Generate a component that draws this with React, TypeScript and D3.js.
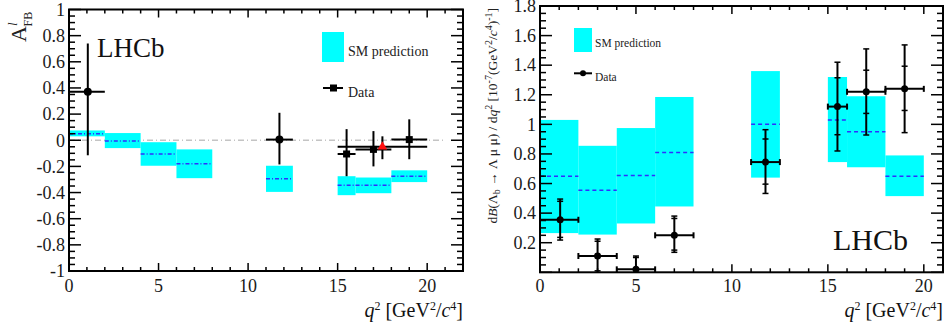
import * as d3 from "d3";

const FONT = "'Liberation Serif', 'Times New Roman', serif";
const CYAN = "#00ffff";
const BLUE = "#2f2fff";

// q^2 bins of the SM prediction (GeV^2/c^4), same for both panels
const binLo = [0, 2, 4, 6, 11, 15, 16, 18];
const binHi = [2, 4, 6, 8, 12.5, 16, 18, 20];

// left panel: A_FB^l
const afbSmMid = [0.05, -0.005, -0.105, -0.18, -0.295, -0.345, -0.345, -0.275];
const afbSmLow = [0.03, -0.06, -0.195, -0.29, -0.395, -0.42, -0.405, -0.32];
const afbSmHigh = [0.075, 0.055, -0.015, -0.07, -0.195, -0.275, -0.285, -0.23];

const afbX = [1.05, 11.75, 15.5, 17, 19];
const afbXLo = [0, 11, 15, 16, 18];
const afbXHi = [2, 12.5, 16, 18, 20];
const afbY = [0.37, 0.005, -0.105, -0.07, 0.005];
const afbYHi = [0.74, 0.21, 0.085, 0.07, 0.16];
const afbYLo = [-0.115, -0.185, -0.275, -0.2, -0.145];
const afbMarker = ["circle", "circle", "square", "square", "square"];

// the wide 15-20 bin, red triangle
const afbWideX = 17.5;
const afbWideXLo = 15;
const afbWideXHi = 20;
const afbWideY = -0.05;
const afbWideYHi = 0.03;
const afbWideYLo = -0.145;

// right panel: dB/dq^2
const brSmMid = [0.65, 0.555, 0.655, 0.81, 1.0, 1.03, 0.95, 0.65];
const brSmLow = [0.265, 0.255, 0.33, 0.445, 0.64, 0.745, 0.71, 0.515];
const brSmHigh = [1.03, 0.855, 0.975, 1.185, 1.36, 1.32, 1.19, 0.79];

const brX = [1.05, 3, 5, 7, 11.75, 15.5, 17, 19];
const brXLo = [0, 2, 4, 6, 11, 15, 16, 18];
const brXHi = [2, 4, 6, 8, 12.5, 16, 18, 20];
const brY = [0.355, 0.11, 0.02, 0.25, 0.745, 1.12, 1.22, 1.24];
const brTotHi = [0.495, 0.225, 0.11, 0.38, 0.964, 1.42, 1.51, 1.537];
const brStatHi = [0.48, 0.21, 0.1, 0.364, 0.901, 1.315, 1.366, 1.393];
const brStatLo = [0.236, 0.01, 0, 0.15, 0.596, 0.93, 1.074, 1.094];
const brTotLo = [0.218, 0, 0, 0.135, 0.533, 0.82, 0.928, 0.944];

const afbTicks = d3.range(-1, 1.0001, 0.2).map((v) => +v.toFixed(1));
const brTicks = [0.2, 0.4, 0.6, 0.8, 1, 1.2, 1.4, 1.6, 1.8];
const q2Ticks = [0, 5, 10, 15, 20];

type Lin = d3.ScaleLinear<number, number>;

function Frame({ x, y, xMax, yMinor, yLabels }: { x: Lin; y: Lin; xMax: number; yMinor: number; yLabels: number[] }) {
  const [x0, x1] = x.range();
  const [yb, yt] = y.range();
  const [ylo, yhi] = y.domain();
  const xMinorTicks = d3.range(0, xMax + 0.001, 1);
  const yMinorTicks = d3.range(Math.round(ylo / yMinor), Math.round(yhi / yMinor) + 1).map((i) => i * yMinor);
  const isMajorY = (v: number) => Math.abs(v / 0.2 - Math.round(v / 0.2)) < 1e-6;
  const fmt = (v: number) => String(+v.toFixed(1));
  return (
    <g>
      {xMinorTicks.map((v) => {
        const len = v % 5 === 0 ? 8 : 4;
        return (
          <g key={"x" + v}>
            <line x1={x(v)} x2={x(v)} y1={yb} y2={yb - len} stroke="#000" strokeWidth={1.5} />
            <line x1={x(v)} x2={x(v)} y1={yt} y2={yt + len} stroke="#000" strokeWidth={1.5} />
          </g>
        );
      })}
      {yMinorTicks.map((v) => {
        const len = isMajorY(v) ? 12 : 6;
        return (
          <g key={"y" + v}>
            <line x1={x0} x2={x0 + len} y1={y(v)} y2={y(v)} stroke="#000" strokeWidth={1.5} />
            <line x1={x1} x2={x1 - len} y1={y(v)} y2={y(v)} stroke="#000" strokeWidth={1.5} />
          </g>
        );
      })}
      <rect x={x0} y={yt} width={x1 - x0} height={yb - yt} fill="none" stroke="#000" strokeWidth={2} />
      {yLabels.map((v) => (
        <text key={"yl" + v} x={x0 - 4} y={y(v)} dy="0.35em" textAnchor="end" fontSize={18} fill="#1a1a1a">
          {fmt(v)}
        </text>
      ))}
      {q2Ticks.map((v) => (
        <text key={"xl" + v} x={x(v)} y={292} textAnchor="middle" fontSize={18} fill="#1a1a1a">
          {v}
        </text>
      ))}
      <text x={x1} y={317} textAnchor="end" fontSize={20} fill="#111">
        <tspan fontStyle="italic">q</tspan>
        <tspan dy={-7} fontSize={12}>2</tspan>
        <tspan dy={7}> [GeV</tspan>
        <tspan dy={-7} fontSize={12}>2</tspan>
        <tspan dy={7}>/</tspan>
        <tspan fontStyle="italic">c</tspan>
        <tspan dy={-7} fontSize={12}>4</tspan>
        <tspan dy={7}>]</tspan>
      </text>
    </g>
  );
}

function SmBoxes({ x, y, lo, hi, mid, dash }: { x: Lin; y: Lin; lo: number[]; hi: number[]; mid: number[]; dash: string }) {
  return (
    <g>
      {binLo.map((b, i) => (
        <rect key={"b" + i} x={x(b)} y={y(hi[i])} width={x(binHi[i]) - x(b)} height={y(lo[i]) - y(hi[i])} fill={CYAN} />
      ))}
      {binLo.map((b, i) => (
        <line key={"m" + i} x1={x(b)} x2={x(binHi[i])} y1={y(mid[i])} y2={y(mid[i])} stroke={BLUE} strokeWidth={1.5} strokeDasharray={dash} />
      ))}
    </g>
  );
}

function AfbPanel() {
  const x = d3.scaleLinear().domain([0, 22]).range([69, 463]);
  const y = d3.scaleLinear().domain([-1, 1]).range([271, 9.5]);
  return (
    <g>
      <line x1={x(0)} x2={x(21)} y1={y(0)} y2={y(0)} stroke="#c4c4c4" strokeWidth={1.5} strokeDasharray="6,3,1,3" />
      <SmBoxes x={x} y={y} lo={afbSmLow} hi={afbSmHigh} mid={afbSmMid} dash="4,2,1,2" />
      {afbX.map((v, i) => (
        <g key={"d" + i} stroke="#000" strokeWidth={2}>
          <line x1={x(afbXLo[i])} x2={x(afbXHi[i])} y1={y(afbY[i])} y2={y(afbY[i])} />
          <line x1={x(v)} x2={x(v)} y1={y(afbYHi[i])} y2={y(afbYLo[i])} />
          {afbMarker[i] === "circle" ? (
            <circle cx={x(v)} cy={y(afbY[i])} r={4} fill="#000" stroke="none" />
          ) : (
            <rect x={x(v) - 3.5} y={y(afbY[i]) - 3.5} width={7} height={7} fill="#000" stroke="none" />
          )}
        </g>
      ))}
      <g stroke="#000" strokeWidth={2}>
        <line x1={x(afbWideXLo)} x2={x(afbWideXHi)} y1={y(afbWideY)} y2={y(afbWideY)} />
        <line x1={x(afbWideX)} x2={x(afbWideX)} y1={y(afbWideYHi)} y2={y(afbWideYLo)} />
      </g>
      <path
        d={d3.symbol(d3.symbolTriangle, 40)() as string}
        transform={`translate(${x(afbWideX)},${y(afbWideY)})`}
        fill="#ff1010"
      />
      <Frame x={x} y={y} xMax={22} yMinor={0.05} yLabels={afbTicks} />
      <text transform="translate(26,42) rotate(-90)" fontSize={22} fill="#222">
        <tspan>A</tspan>
        <tspan dy={-9} fontSize={13} fontStyle="italic">l</tspan>
        <tspan dx={-4} dy={15} fontSize={12}>FB</tspan>
      </text>
      <text x={97} y={57} fontSize={27} fill="#111">LHCb</text>
      <rect x={322} y={32} width={22} height={30} fill={CYAN} />
      <text x={348} y={56} fontSize={14} fill="#222">SM prediction</text>
      <line x1={323} x2={343} y1={88} y2={88} stroke="#000" strokeWidth={2} />
      <rect x={330} y={84.5} width={7} height={7} fill="#000" />
      <text x={348} y={97} fontSize={14} fill="#222">Data</text>
    </g>
  );
}

function BrPanel() {
  const x = d3.scaleLinear().domain([0, 21]).range([540, 943]);
  const y = d3.scaleLinear().domain([0, 1.8]).range([272.3, 6]);
  const cap = 3;
  return (
    <g>
      <SmBoxes x={x} y={y} lo={brSmLow} hi={brSmHigh} mid={brSmMid} dash="4,3" />
      {brX.map((v, i) => {
        const cx = x(v);
        const cy = y(brY[i]);
        return (
          <g key={"d" + i} stroke="#000" strokeWidth={2}>
            <line x1={x(brXLo[i])} x2={x(brXHi[i])} y1={cy} y2={cy} />
            <line x1={x(brXLo[i])} x2={x(brXLo[i])} y1={cy - cap} y2={cy + cap} />
            <line x1={x(brXHi[i])} x2={x(brXHi[i])} y1={cy - cap} y2={cy + cap} />
            <line x1={cx} x2={cx} y1={y(brTotHi[i])} y2={y(brTotLo[i])} />
            {[brTotHi[i], brStatHi[i], brStatLo[i], brTotLo[i]]
              .filter((e) => e > 0.005)
              .map((e, j) => (
                <line key={j} x1={cx - cap} x2={cx + cap} y1={y(e)} y2={y(e)} strokeWidth={1.5} />
              ))}
            <circle cx={cx} cy={cy} r={3.5} fill="#000" stroke="none" />
          </g>
        );
      })}
      <Frame x={x} y={y} xMax={21} yMinor={0.05} yLabels={brTicks} />
      <text transform="translate(497,8) rotate(-90)" textAnchor="end" fontSize={13.5} fill="#222">
        <tspan>d</tspan>
        <tspan fontStyle="italic">B</tspan>
        <tspan>(Λ</tspan>
        <tspan dy={3} fontSize={10}>b</tspan>
        <tspan dy={-3}> → Λ μ μ) / d</tspan>
        <tspan fontStyle="italic">q</tspan>
        <tspan dy={-5} fontSize={10}>2</tspan>
        <tspan dy={5}> [10</tspan>
        <tspan dy={-5} fontSize={10}>-7</tspan>
        <tspan dy={5}>(GeV</tspan>
        <tspan dy={-5} fontSize={10}>2</tspan>
        <tspan dy={5}>/</tspan>
        <tspan fontStyle="italic">c</tspan>
        <tspan dy={-5} fontSize={10}>4</tspan>
        <tspan dy={5}>)</tspan>
        <tspan dy={-5} fontSize={10}>-1</tspan>
        <tspan dy={5}>]</tspan>
      </text>
      <text x={833} y={250} fontSize={30} fill="#111">LHCb</text>
      <rect x={574} y={28} width={18} height={24} fill={CYAN} />
      <text x={595} y={47} fontSize={11.5} fill="#222">SM prediction</text>
      <line x1={574} x2={592} y1={73.3} y2={73.3} stroke="#000" strokeWidth={2} />
      <circle cx={583} cy={73.3} r={3} fill="#000" />
      <text x={595} y={81} fontSize={11.5} fill="#222">Data</text>
    </g>
  );
}

export default function App() {
  return (
    <svg
      width={947}
      height={326}
      style={{ position: "absolute", left: 0, top: 0, background: "#fff" }}
      fontFamily={FONT}
    >
      <rect width={947} height={326} fill="#fff" />
      <AfbPanel />
      <BrPanel />
    </svg>
  );
}
